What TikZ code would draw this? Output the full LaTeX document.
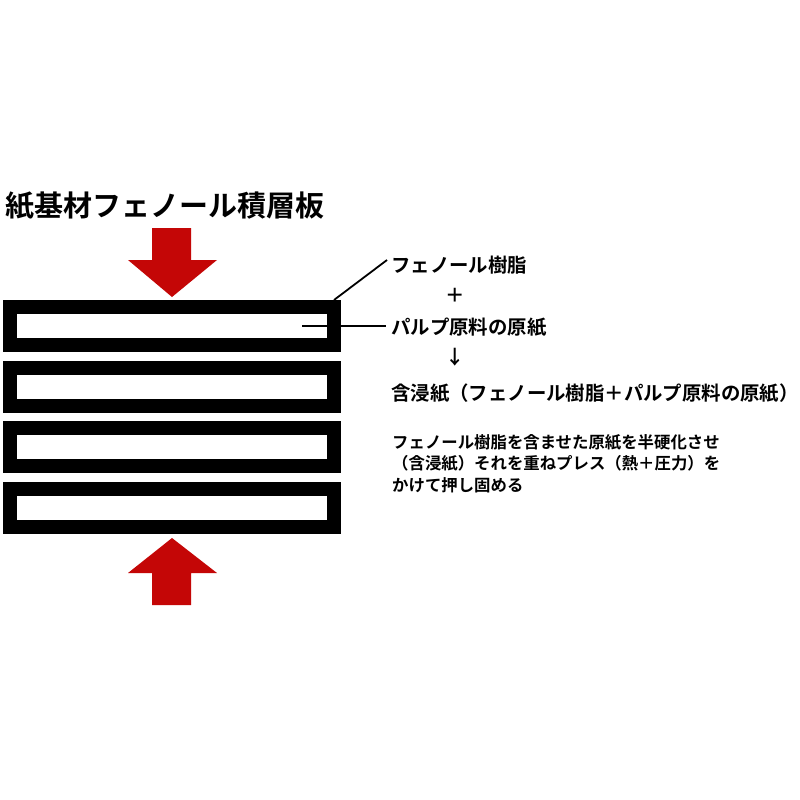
\documentclass[tikz,border=0pt]{standalone}
\usepackage{fontspec}
\newfontfamily\jp{Noto Sans CJK JP}
\newfontfamily\jpb{Noto Sans CJK JP Bold}
\definecolor{arrowred}{RGB}{196,6,6}
\begin{document}
\begin{tikzpicture}[x=1pt,y=-1pt,
  layer/.style={fill=black},
  hole/.style={fill=white},
  press/.style={fill=arrowred,draw=none},
  leader/.style={draw=black,line width=1.8pt},
  lbl/.style={anchor=west,inner sep=0pt,font=\jpb\fontsize{19.4}{21}\selectfont},
  note/.style={anchor=north west,inner sep=0pt,align=left,font=\jpb\fontsize{16.4}{21.5}\selectfont}]
\useasboundingbox[fill=white] (0,0) rectangle (800,800);
% title
\node[anchor=west,inner sep=0pt,font=\jpb\fontsize{29}{30}\selectfont] (title) at (5,206) {紙基材フェノール積層板};
% layers
\foreach \i/\t in {1/300,2/361,3/421,4/482}{
  \fill[layer] (3,\t) rectangle (341,\t+51.5);
  \fill[hole] (17,\t+14) rectangle (327,\t+37.5);
}
% arrows
\fill[press] (152,228) -- (191,228) -- (191,260) -- (217,260) -- (172,297) -- (128,260) -- (152,260) -- cycle;
\fill[press] (152,605) -- (191,605) -- (191,573) -- (217,573) -- (172,538) -- (128,573) -- (152,573) -- cycle;
% labels
\node[lbl] (resin) at (391,265) {フェノール樹脂};
\node[lbl,anchor=center] (plus) at (455,295) {＋};
\node[lbl] (pulp) at (391,327) {パルプ原料の原紙};
\node[lbl,anchor=center] (down) at (455,357) {↓};
\node[lbl] (impr) at (391,393) {含浸紙（フェノール樹脂＋パルプ原料の原紙）};
\node[note] (desc) at (392,434) {フェノール樹脂を含ませた原紙を半硬化させ\\（含浸紙）それを重ねプレス（熱＋圧力）を\\かけて押し固める};
% leaders
\coordinate (c1) at (334,300);
\coordinate (c2) at (302,326);
\draw[leader] (c1) -- (387,260);
\draw[leader] (c2) -- (386,326);
\end{tikzpicture}
\end{document}
